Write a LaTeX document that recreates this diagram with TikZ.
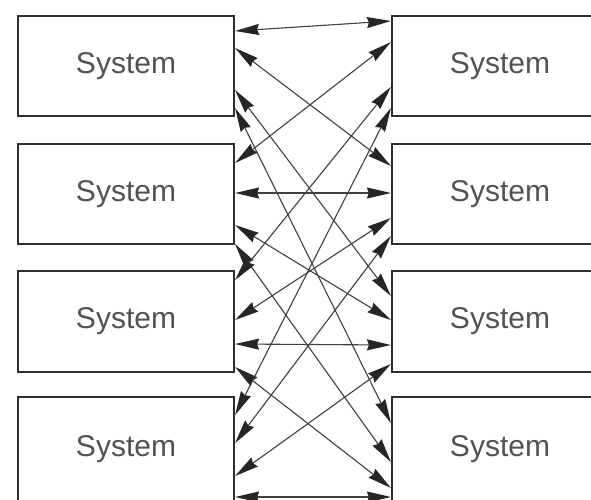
\documentclass[tikz,border=0pt]{standalone}
\usepackage{fontspec}
\setmainfont{Liberation Sans}
\usetikzlibrary{arrows.meta}
\begin{document}
\begin{tikzpicture}[x=1pt,y=-1pt,
  sysbox/.style={draw=black!82,line width=2.2pt,minimum width=216pt,
    inner sep=0pt,text=black!68,font=\fontsize{30}{35}\selectfont},
  link/.style={draw=black!75,line width=1.1pt,
    {Stealth[length=24pt,width=11pt,inset=2pt,black!85]}-{Stealth[length=24pt,width=11pt,inset=2pt,black!85]}}]
\useasboundingbox (0,0) rectangle (591,499);
\clip (0,0) rectangle (591,499);
\fill[white] (0,0) rectangle (591,499);
% left column
\node[sysbox,minimum height=100pt] (L1) at (126,66) {System};
\node[sysbox,minimum height=100pt] (L2) at (126,194) {System};
\node[sysbox,minimum height=101pt] (L3) at (126,321.5) {System};
\node[sysbox,minimum height=104pt] (L4) at (126,449) {System};
% right column
\node[sysbox,minimum height=100pt] (R1) at (500,66) {System};
\node[sysbox,minimum height=100pt] (R2) at (500,194) {System};
\node[sysbox,minimum height=101pt] (R3) at (500,321.5) {System};
\node[sysbox,minimum height=104pt] (R4) at (500,449) {System};
% links from L1
\draw[link] (L1.east |- 0,31)  -- (R1.west |- 0,21);
\draw[link] (L1.east |- 0,48)  -- (R2.west |- 0,166);
\draw[link] (L1.east |- 0,90)  -- (R3.west |- 0,296);
\draw[link] (L1.east |- 0,108) -- (R4.west |- 0,423);
% links from L2
\draw[link] (L2.east |- 0,163) -- (R1.west |- 0,42);
\draw[link] (L2.east |- 0,193) -- (R2.west |- 0,193);
\draw[link] (L2.east |- 0,225) -- (R3.west |- 0,320);
\draw[link] (L2.east |- 0,244) -- (R4.west |- 0,462);
% links from L3
\draw[link] (L3.east |- 0,280) -- (R1.west |- 0,87);
\draw[link] (L3.east |- 0,320) -- (R2.west |- 0,218);
\draw[link] (L3.east |- 0,344) -- (R3.west |- 0,345);
\draw[link] (L3.east |- 0,367) -- (R4.west |- 0,488);
% links from L4
\draw[link] (L4.east |- 0,415) -- (R1.west |- 0,108);
\draw[link] (L4.east |- 0,443) -- (R2.west |- 0,236);
\draw[link] (L4.east |- 0,476) -- (R3.west |- 0,364);
\draw[link] (L4.east |- 0,497) -- (R4.west |- 0,497);
\end{tikzpicture}
\end{document}
